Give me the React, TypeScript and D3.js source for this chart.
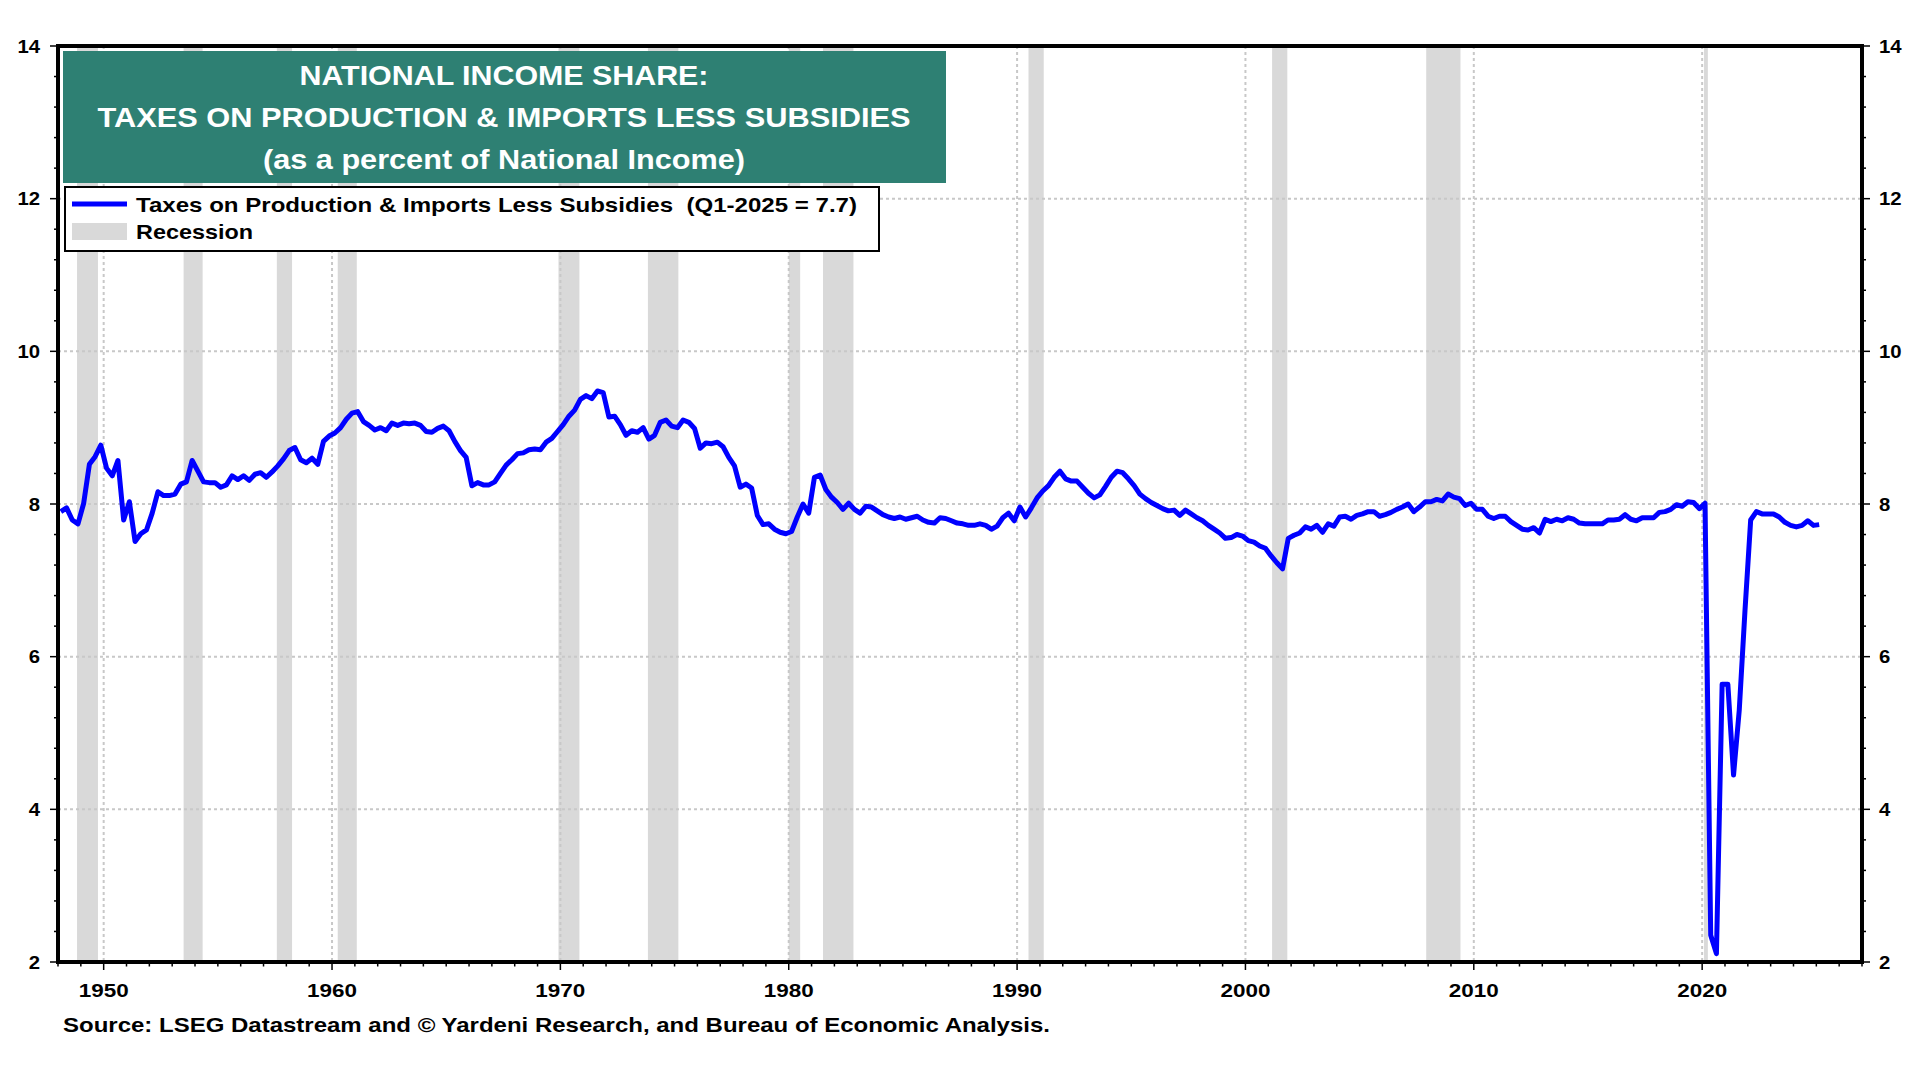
import React from 'react';
import * as d3 from 'd3';

// quarterly values, first point = Q1 1948
const START_YEAR = 1948;

const v1940s = [7.9, 7.95, 7.79, 7.74, 8.01, 8.52, 8.62, 8.77];
const v1950s = [
  8.47, 8.37, 8.57, 7.79, 8.03, 7.51, 7.61, 7.66, 7.88, 8.16, 8.11, 8.11,
  8.13, 8.26, 8.29, 8.57, 8.43, 8.29, 8.28, 8.28, 8.22, 8.25, 8.37, 8.32,
  8.37, 8.31, 8.39, 8.41, 8.35, 8.42, 8.5, 8.59, 8.7, 8.74, 8.58, 8.54,
  8.6, 8.52, 8.82, 8.89,
];
const v1960s = [
  8.93, 9.0, 9.11, 9.19, 9.21, 9.08, 9.03, 8.97, 9.0, 8.96, 9.06, 9.03,
  9.06, 9.05, 9.06, 9.03, 8.95, 8.94, 8.99, 9.02, 8.96, 8.82, 8.7, 8.61,
  8.24, 8.28, 8.25, 8.25, 8.29, 8.4, 8.51, 8.58, 8.66, 8.67, 8.71, 8.72,
  8.71, 8.81, 8.86, 8.95,
];
const v1970s = [
  9.04, 9.15, 9.23, 9.37, 9.42, 9.38, 9.48, 9.46, 9.14, 9.15, 9.04, 8.9,
  8.96, 8.94, 9.0, 8.85, 8.9, 9.07, 9.1, 9.02, 9.0, 9.1, 9.07, 8.99,
  8.73, 8.8, 8.79, 8.81, 8.75, 8.61, 8.5, 8.22, 8.26, 8.21, 7.85, 7.73,
  7.74, 7.67, 7.63, 7.61,
];
const v1980s = [
  7.64, 7.83, 8.0, 7.88, 8.35, 8.38, 8.19, 8.09, 8.02, 7.93, 8.01, 7.93,
  7.88, 7.97, 7.96, 7.91, 7.86, 7.83, 7.81, 7.83, 7.8, 7.82, 7.84, 7.79,
  7.76, 7.75, 7.82, 7.81, 7.78, 7.75, 7.74, 7.72, 7.72, 7.74, 7.72, 7.67,
  7.71, 7.82, 7.88, 7.78,
];
const v1990s = [
  7.96, 7.83, 7.95, 8.08, 8.17, 8.24, 8.35, 8.43, 8.33, 8.3, 8.3, 8.22,
  8.14, 8.08, 8.12, 8.23, 8.35, 8.43, 8.41, 8.33, 8.24, 8.13, 8.07, 8.02,
  7.98, 7.94, 7.91, 7.92, 7.85, 7.92, 7.87, 7.82, 7.78, 7.72, 7.67, 7.62,
  7.55, 7.56, 7.6, 7.58,
];
const v2000s = [
  7.52, 7.5, 7.45, 7.42, 7.32, 7.23, 7.15, 7.55, 7.59, 7.62, 7.7, 7.67,
  7.72, 7.63, 7.74, 7.71, 7.83, 7.84, 7.8, 7.85, 7.87, 7.9, 7.9, 7.84,
  7.86, 7.89, 7.93, 7.96, 8.0, 7.9, 7.96, 8.03, 8.03, 8.06, 8.04, 8.13,
  8.09, 8.07, 7.98, 8.01,
];
const v2010s = [
  7.93, 7.93, 7.84, 7.81, 7.84, 7.84, 7.77, 7.72, 7.67, 7.66, 7.69, 7.62,
  7.8, 7.77, 7.8, 7.78, 7.82, 7.8, 7.75, 7.74, 7.74, 7.74, 7.74, 7.79,
  7.79, 7.8, 7.86, 7.8, 7.78, 7.82, 7.82, 7.82, 7.89, 7.9, 7.93, 7.99,
  7.97, 8.03, 8.02, 7.94,
];
const v2020s = [
  8.01, 2.35, 2.11, 5.64, 5.64, 4.45, 5.3, 6.6, 7.79, 7.9, 7.87, 7.87,
  7.87, 7.83, 7.76, 7.72, 7.7, 7.72, 7.78, 7.72, 7.73,
];

// NBER peak month -> trough month
const recessions: [string, string][] = [
  ['1948-11', '1949-10'],
  ['1953-07', '1954-05'],
  ['1957-08', '1958-04'],
  ['1960-04', '1961-02'],
  ['1969-12', '1970-11'],
  ['1973-11', '1975-03'],
  ['1980-01', '1980-07'],
  ['1981-07', '1982-11'],
  ['1990-07', '1991-03'],
  ['2001-03', '2001-11'],
  ['2007-12', '2009-06'],
  ['2020-02', '2020-04'],
];

const yearTicks = [1950, 1960, 1970, 1980, 1990, 2000, 2010, 2020];
const valueTicks = [2, 4, 6, 8, 10, 12, 14];

const titleLines = [
  'NATIONAL INCOME SHARE:',
  'TAXES ON PRODUCTION & IMPORTS LESS SUBSIDIES',
  '(as a percent of National Income)',
];
const seriesLabel = 'Taxes on Production & Imports Less Subsidies  (Q1-2025 = 7.7)';
const recessionLabel = 'Recession';
const sourceText =
  'Source: LSEG Datastream and \u00A9 Yardeni Research, and Bureau of Economic Analysis.';

const FONT = "Arial, 'Liberation Sans', sans-serif";
const BLUE = '#0000ff';
const GREY = '#d9d9d9';
const GRID = '#c8c8c8';
const TEAL = '#2e8073';

const plot = { left: 58, right: 1862, top: 46, bottom: 962 };

const toYear = (s: string) => {
  const [yy, mm] = s.split('-').map(Number);
  return yy + (mm - 1) / 12;
};

export default function App() {
  const x = d3.scaleLinear().domain([1948, 2027]).range([plot.left, plot.right]);
  const y = d3.scaleLinear().domain([2, 14]).range([plot.bottom, plot.top]);

  const values = [
    ...v1940s, ...v1950s, ...v1960s, ...v1970s, ...v1980s,
    ...v1990s, ...v2000s, ...v2010s, ...v2020s,
  ];
  const points = values.map((v, i) => ({ t: START_YEAR + i * 0.25 + 0.125, v }));
  const linePath = d3
    .line<{ t: number; v: number }>()
    .x((d) => x(d.t))
    .y((d) => y(d.v))(points) as string;

  const minorY = d3.range(0, 31).map((i) => 2 + i * 0.4);
  const minorX = d3.range(1948, 2028);

  const labelStyle: React.CSSProperties = { fontFamily: FONT, fontWeight: 'bold', fontSize: 19 };

  return (
    <svg
      width={1920}
      height={1080}
      style={{ position: 'absolute', left: 0, top: 0, display: 'block', background: '#fff' }}
    >
      {/* recession shading */}
      {recessions.map(([a, b]) => (
        <rect
          key={a}
          x={x(toYear(a))}
          y={plot.top}
          width={x(toYear(b)) - x(toYear(a))}
          height={plot.bottom - plot.top}
          fill={GREY}
        />
      ))}

      {/* dotted grid */}
      {valueTicks.slice(1, -1).map((v) => (
        <line key={'gy' + v} x1={plot.left} x2={plot.right} y1={y(v)} y2={y(v)}
          stroke={GRID} strokeWidth={2} strokeDasharray="3 3" />
      ))}
      {yearTicks.map((t) => (
        <line key={'gx' + t} x1={x(t)} x2={x(t)} y1={plot.top} y2={plot.bottom}
          stroke={GRID} strokeWidth={2} strokeDasharray="3 3" />
      ))}

      {/* series */}
      <path d={linePath} fill="none" stroke={BLUE} strokeWidth={5} strokeLinejoin="round" />

      {/* title box */}
      <rect x={63} y={51} width={883} height={132} fill={TEAL} />
      {titleLines.map((s, i) => (
        <text key={s} x={504} y={85 + i * 42} textAnchor="middle" fill="#fff"
          textLength={[409, 813, 482][i]} lengthAdjust="spacingAndGlyphs"
          style={{ fontFamily: FONT, fontWeight: 'bold', fontSize: 28.5 }}>
          {s}
        </text>
      ))}

      {/* legend */}
      <rect x={65} y={187} width={814} height={64} fill="#fff" stroke="#000" strokeWidth={2} />
      <line x1={72} x2={127} y1={204} y2={204} stroke={BLUE} strokeWidth={5} />
      <rect x={72} y={223} width={55} height={17} fill={GREY} />
      <text x={136} y={211.5} textLength={721} lengthAdjust="spacingAndGlyphs"
        style={{ fontFamily: FONT, fontWeight: 'bold', fontSize: 21, whiteSpace: 'pre' }}>
        {seriesLabel}
      </text>
      <text x={136} y={238.5} textLength={117} lengthAdjust="spacingAndGlyphs"
        style={{ fontFamily: FONT, fontWeight: 'bold', fontSize: 21 }}>
        {recessionLabel}
      </text>

      {/* frame */}
      <rect x={plot.left} y={plot.top} width={plot.right - plot.left} height={plot.bottom - plot.top}
        fill="none" stroke="#000" strokeWidth={4} />

      {/* y ticks, both sides */}
      {minorY.map((v, i) => {
        const major = i % 5 === 0;
        const len = major ? 8 : 4;
        return (
          <g key={'ty' + i} stroke="#000" strokeWidth={1.5}>
            <line x1={plot.left - len} x2={plot.left} y1={y(v)} y2={y(v)} />
            <line x1={plot.right} x2={plot.right + len} y1={y(v)} y2={y(v)} />
          </g>
        );
      })}
      {valueTicks.map((v) => (
        <g key={'ly' + v} style={labelStyle}>
          <text x={40} y={y(v) + 6.8} textAnchor="end"
            textLength={String(v).length * 11.3} lengthAdjust="spacingAndGlyphs">{v}</text>
          <text x={1879} y={y(v) + 6.8} textAnchor="start"
            textLength={String(v).length * 11.3} lengthAdjust="spacingAndGlyphs">{v}</text>
        </g>
      ))}

      {/* x ticks */}
      {minorX.map((t) => {
        const major = t % 10 === 0;
        return (
          <line key={'tx' + t} x1={x(t)} x2={x(t)} y1={plot.bottom} y2={plot.bottom + (major ? 8 : 4.5)}
            stroke="#000" strokeWidth={1.5} />
        );
      })}
      {yearTicks.map((t) => (
        <text key={'lx' + t} x={x(t)} y={996.5} textAnchor="middle" style={labelStyle}
          textLength={50} lengthAdjust="spacingAndGlyphs">{t}</text>
      ))}

      {/* source */}
      <text x={63} y={1032} textLength={987} lengthAdjust="spacingAndGlyphs"
        style={{ fontFamily: FONT, fontWeight: 'bold', fontSize: 21 }}>
        {sourceText}
      </text>
    </svg>
  );
}
